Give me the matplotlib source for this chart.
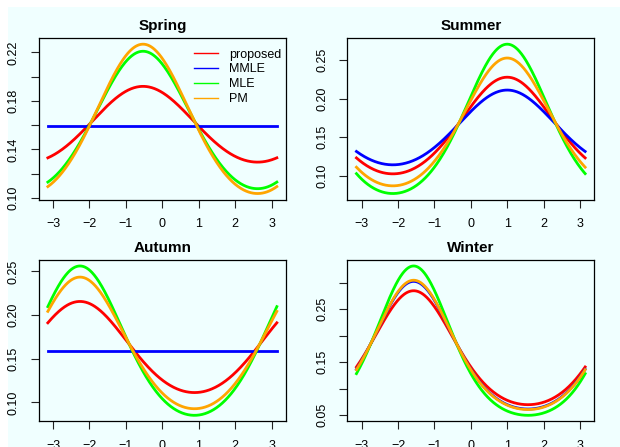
import numpy as np
import matplotlib
matplotlib.use("Agg")
import matplotlib.pyplot as plt
from matplotlib.patches import Rectangle

plt.rcParams['font.family'] = ['Liberation Sans', 'DejaVu Sans']

seasons = ["Spring", "Summer", "Autumn", "Winter"]
methods = ["proposed", "MMLE", "MLE", "PM"]
colors = ["#FF0000", "#0000FF", "#00FF00", "#FFA500"]

# von Mises fits: mean direction per season, concentration per method
mu = [-0.53, 1.0, -2.26, -1.57]
kappa_proposed = [0.197, 0.399, 0.331, 0.702]
kappa_mmle = [0.0, 0.307, 0.0, 0.795]
kappa_mle = [0.360, 0.628, 0.551, 0.947]
kappa_pm = [0.392, 0.533, 0.483, 0.806]
kappas = [kappa_proposed, kappa_mmle, kappa_mle, kappa_pm]

# tick positions and which ones carry a label
yticks = [[0.10, 0.12, 0.14, 0.16, 0.18, 0.20, 0.22],
          [0.10, 0.15, 0.20, 0.25],
          [0.10, 0.15, 0.20, 0.25],
          [0.05, 0.10, 0.15, 0.20, 0.25, 0.30]]
ylabels = [["0.10", "", "0.14", "", "0.18", "", "0.22"],
           ["0.10", "0.15", "0.20", "0.25"],
           ["0.10", "0.15", "0.20", "0.25"],
           ["0.05", "", "0.15", "", "0.25", ""]]
xticks = [-3, -2, -1, 0, 1, 2, 3]

W, H = 620, 447
fig = plt.figure(figsize=(W / 100, H / 100), dpi=100)
fig.patch.set_facecolor("white")
fig.patches.append(Rectangle((8 / W, 0), 1, 1 - 7 / H, transform=fig.transFigure,
                             facecolor="#F0FFFF", edgecolor="none", zorder=-10))

# axes boxes in pixels: left, top, right, bottom
boxes = [(38.7, 38.2, 286.0, 199.5), (347.3, 38.2, 594.3, 199.5),
         (38.7, 260.0, 286.0, 421.3), (347.3, 260.0, 594.3, 421.3)]

theta = np.linspace(-np.pi, np.pi, 400)

for i, season in enumerate(seasons):
    l, t, r, b = boxes[i]
    ax = fig.add_axes([l / W, 1 - b / H, (r - l) / W, (b - t) / H])
    ax.set_facecolor("none")
    lo, hi = 1, 0
    for j, m in enumerate(methods):
        k = kappas[j][i]
        dens = np.exp(k * np.cos(theta - mu[i])) / (2 * np.pi * np.i0(k))
        lo, hi = min(lo, dens.min()), max(hi, dens.max())
        ax.plot(theta, dens, color=colors[j], lw=2, zorder=2 + j)
    pad = 0.04 * (hi - lo)
    ax.set_ylim(lo - pad, hi + pad)
    ax.set_xlim(-1.08 * np.pi, 1.08 * np.pi)
    ax.set_xticks(xticks)
    ax.set_xticklabels([str(x).replace("-", "\u2212") for x in xticks])
    ax.set_yticks(yticks[i])
    ax.set_yticklabels(ylabels[i], rotation=90, va="center")
    ax.tick_params(length=6, width=0.8, labelsize=9, pad=7.5, color="#222222")
    for s in ax.spines.values():
        s.set_linewidth(0.9)
    ax.set_title(season, fontsize=11, fontweight="bold", pad=6)

    if i == 0:
        handles = [plt.Line2D([], [], color=c, lw=1) for c in colors]
        ax.legend(handles, methods, loc="upper left", bbox_to_anchor=(0.63, 0.935),
                  frameon=False, fontsize=9, handlelength=1.85, handletextpad=0.9,
                  labelspacing=0.22, borderpad=0, borderaxespad=0)

fig.savefig("out.png", dpi=100)
